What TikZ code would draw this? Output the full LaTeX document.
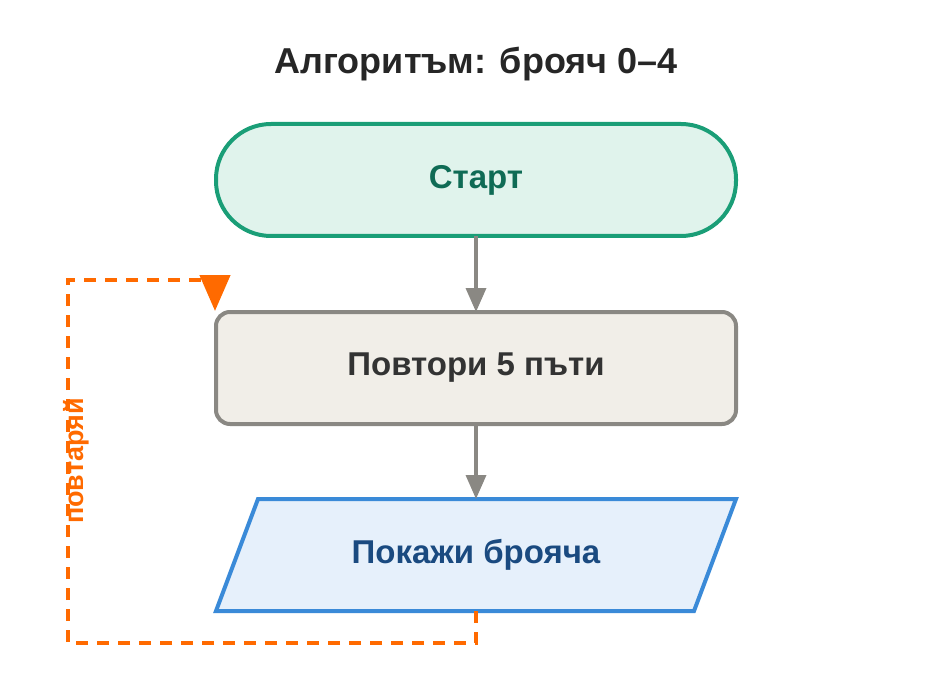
\documentclass[tikz,border=0pt]{standalone}
\usepackage{fontspec}
\setmainfont{Liberation Sans}
\usetikzlibrary{arrows.meta}
\definecolor{sg}{HTML}{1A9E77}\definecolor{sf}{HTML}{E0F3EC}\definecolor{st}{HTML}{0F6B55}
\definecolor{rg}{HTML}{8A8883}\definecolor{rf}{HTML}{F1EEE8}\definecolor{rt}{HTML}{333333}
\definecolor{pg}{HTML}{3A8AD8}\definecolor{pf}{HTML}{E6F0FB}\definecolor{pt}{HTML}{1A4A80}
\definecolor{og}{HTML}{FF6A00}
\begin{document}
\begin{tikzpicture}[x=1pt,y=-1pt,
 lbl/.style={font=\bfseries\fontsize{33}{38}\selectfont},
 flow/.style={draw=rg,line width=3.5pt,-{Triangle[length=24pt,width=20pt]}}]
\useasboundingbox (0,0) rectangle (952,676);
\node[font=\bfseries\fontsize{36}{40}\selectfont,text=black!85] (title) at (476,64) {Алгоритъм: брояч 0–4};
\draw[draw=sg,fill=sf,line width=4pt,rounded corners=55pt] (216,124) rectangle (736,236);
\node[lbl,text=st] (start) at (476,180) {Старт};
\coordinate (sb) at (476,236);
\draw[draw=rg,fill=rf,line width=4pt,rounded corners=14pt] (216,312) rectangle (736,424);
\node[lbl,text=rt] (rep) at (476,368) {Повтори 5 пъти};
\coordinate (rt) at (476,312); \coordinate (rb) at (476,424);
\draw[draw=pg,fill=pf,line width=4pt] (258,499) -- (736,499) -- (694,611) -- (216,611) -- cycle;
\node[lbl,text=pt] (show) at (476,555) {Покажи брояча};
\coordinate (pt) at (476,499); \coordinate (pb) at (476,611);
\draw[flow] (sb) -- (rt);
\draw[flow] (rb) -- (pt);
\coordinate (loopend) at (215,311);
\draw[draw=og,line width=4.5pt,dash pattern=on 12pt off 9pt,-{Triangle[length=36pt,width=30pt]}]
 (pb) -- (476,643) -- (68,643) -- (68,280) -- (215,280) -- (loopend);
\node[text=og,font=\bfseries\fontsize{27}{30}\selectfont,rotate=90] (lp) at (76,461) {повтаряй};
\end{tikzpicture}
\end{document}
